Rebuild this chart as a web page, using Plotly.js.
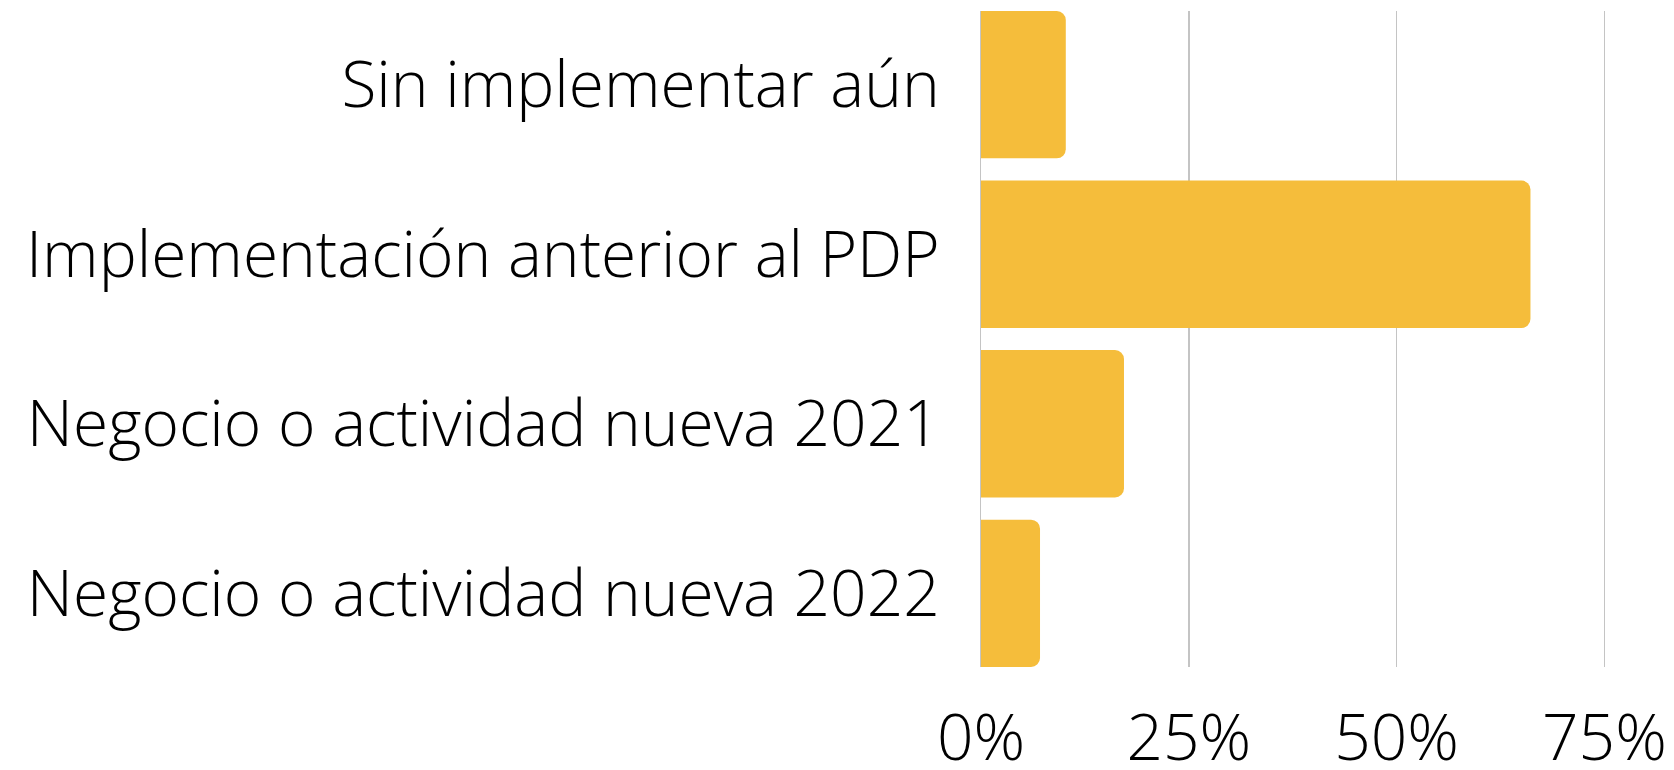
<!DOCTYPE html>
<html>
<head>
<meta charset="utf-8">
<script src="https://cdn.plot.ly/plotly-3.0.1.min.js"></script>
<style>
  html, body { margin: 0; padding: 0; background: #ffffff; }
  #chart { width: 1674px; height: 770px; }
</style>
</head>
<body>
<div id="chart"></div>
<script>
// Data
const categories = [
  "Sin implementar aún",
  "Implementación anterior al PDP",
  "Negocio o actividad nueva 2021",
  "Negocio o actividad nueva 2022"
];
const values = [10.2, 66.1, 17.2, 7.1];   // percent
const xTickValues = [0, 25, 50, 75];
const xTickLabels = ["0%", "25%", "50%", "75%"];

const barColor = "#F5BD3B";
const gridColor = "#C4C4C4";
const fontSpec = { family: "Open Sans, Noto Sans, sans-serif", size: 64, color: "#000000", weight: 300 };

const trace = {
  type: "bar",
  orientation: "h",
  y: categories,
  x: values,
  marker: { color: barColor, line: { width: 0 } },
  hoverinfo: "skip"
};

const layout = {
  width: 1674,
  height: 770,
  margin: { l: 981, r: 28, t: 11, b: 103, pad: 0 },
  paper_bgcolor: "#ffffff",
  plot_bgcolor: "#ffffff",
  showlegend: false,
  bargap: 0.131,
  barcornerradius: 9,
  font: fontSpec,
  xaxis: {
    range: [0, 80],
    tickvals: xTickValues,
    ticktext: xTickLabels,
    showgrid: true,
    gridcolor: gridColor,
    gridwidth: 1.5,
    zeroline: false,
    showline: false,
    ticks: "",
    ticklabelstandoff: 28,
    tickfont: fontSpec,
    automargin: false,
    fixedrange: true
  },
  yaxis: {
    type: "category",
    categoryorder: "array",
    categoryarray: categories,
    range: [3.4345, -0.4345],
    showgrid: false,
    zeroline: false,
    showline: true,
    linecolor: gridColor,
    linewidth: 1.5,
    ticks: "",
    ticklabelstandoff: 27,
    tickfont: fontSpec,
    automargin: false,
    fixedrange: true
  }
};

Plotly.newPlot("chart", [trace], layout, { displayModeBar: false, staticPlot: true });
</script>
</body>
</html>
